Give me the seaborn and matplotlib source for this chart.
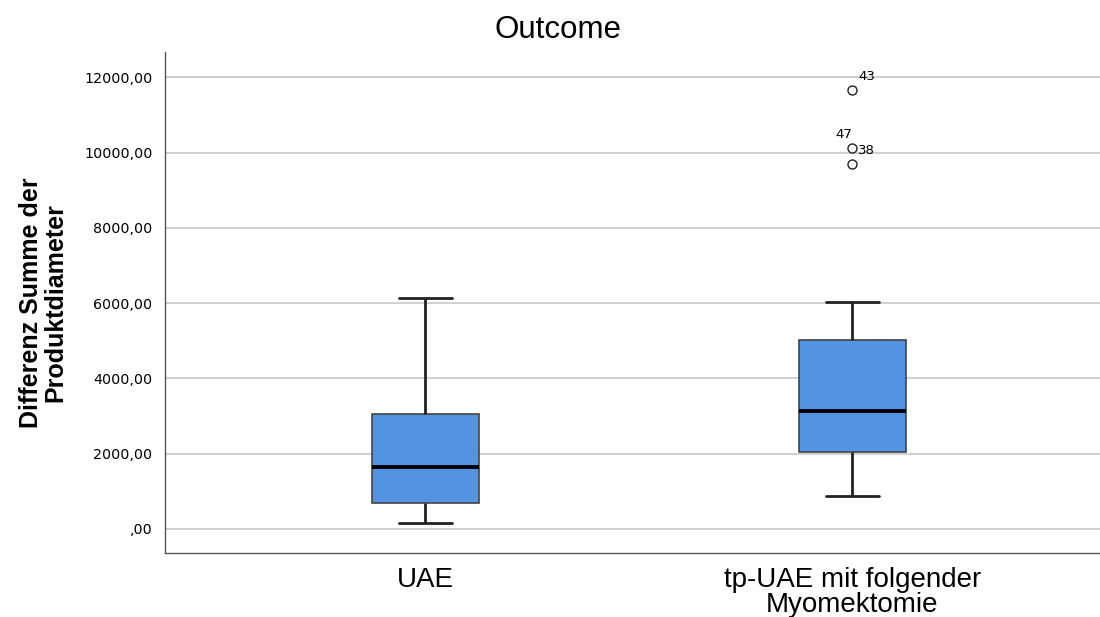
import numpy as np
import pandas as pd
import matplotlib
matplotlib.use('Agg')
import matplotlib.pyplot as plt
import seaborn as sns

# values (five-number summaries + outliers)
groups = ['UAE', 'tp-UAE mit folgender\nMyomektomie']
whisk_lo = [159, 876]
q1 = [690, 2044]
median = [1646, 3133]
q3 = [3053, 5018]
whisk_hi = [6133, 6027]
outliers = [[], [9690, 10115, 11655]]
outlier_ids = [[], ['38', '47', '43']]
yticks = [0, 2000, 4000, 6000, 8000, 10000, 12000]
ytick_labels = [',00', '2000,00', '4000,00', '6000,00', '8000,00', '10000,00', '12000,00']

# build samples whose quartiles/whiskers reproduce the summaries
rows = []
for i, g in enumerate(groups):
    if outliers[i]:
        vals = [whisk_lo[i]] + [q1[i]] * 4 + [median[i]] * 4 + [q3[i]] * 4 + [whisk_hi[i]] + outliers[i]
    else:
        vals = [whisk_lo[i], q1[i], median[i], q3[i], whisk_hi[i]]
    for v in vals:
        rows.append((g, v))
df = pd.DataFrame(rows, columns=['group', 'value'])

sns.set_style('white')
plt.rcParams['font.family'] = ['Liberation Sans', 'DejaVu Sans']
plt.rcParams['text.color'] = 'black'
plt.rcParams['xtick.color'] = 'black'
plt.rcParams['ytick.color'] = 'black'
plt.rcParams['axes.labelcolor'] = 'black'

fig, ax = plt.subplots(figsize=(11, 6.17), dpi=100)
fig.subplots_adjust(left=0.15, right=1.0, top=0.915, bottom=0.104)

sns.boxplot(data=df, x='group', y='value', order=groups, width=0.25,
            color='#5294e2', saturation=1, linewidth=1.5, whis=1.5,
            boxprops=dict(edgecolor='#444444', linewidth=1.2),
            medianprops=dict(color='black', linewidth=2.8),
            whiskerprops=dict(color='#222222', linewidth=2),
            capprops=dict(color='#222222', linewidth=2),
            capwidths=0.125,
            flierprops=dict(marker='o', markerfacecolor='white', markeredgecolor='#222222',
                            markersize=6.5, markeredgewidth=1.0),
            ax=ax, zorder=3)

# outlier case numbers
offsets = {'43': (4, 10, 'left'), '47': (0, 10, 'right'), '38': (4, 10, 'left')}
for i, ids in enumerate(outlier_ids):
    for v, lab in zip(outliers[i], ids):
        dx, dy, ha = offsets[lab]
        ax.annotate(lab, (i, v), xytext=(dx, dy), textcoords='offset points',
                    ha=ha, va='center', fontsize=9.5, family='DejaVu Sans')

ax.set_xlim(-0.61, 1.58)
ax.set_ylim(-640, 12660)
ax.set_yticks(yticks)
ax.set_yticklabels(ytick_labels, fontsize=10.3, family='DejaVu Sans')
ax.tick_params(axis='y', length=0, pad=9)
ax.tick_params(axis='x', length=0, labelsize=20, pad=10)
ax.yaxis.grid(True, color='#c8c8c8', linewidth=1.2)
ax.set_axisbelow(True)
for s in ['top', 'right']:
    ax.spines[s].set_visible(False)
for s in ['left', 'bottom']:
    ax.spines[s].set_color('#555555')
    ax.spines[s].set_linewidth(1)

for lbl in ax.get_xticklabels():
    lbl.set_linespacing(0.95)

ax.set_xlabel('')
ax.set_ylabel('Differenz Summe der\nProduktdiameter', fontsize=18, fontweight='bold',
              labelpad=12, linespacing=1.0)
fig.suptitle('Outcome', x=0.507, y=0.975, fontsize=22.5)

fig.savefig('out.png', dpi=100)
